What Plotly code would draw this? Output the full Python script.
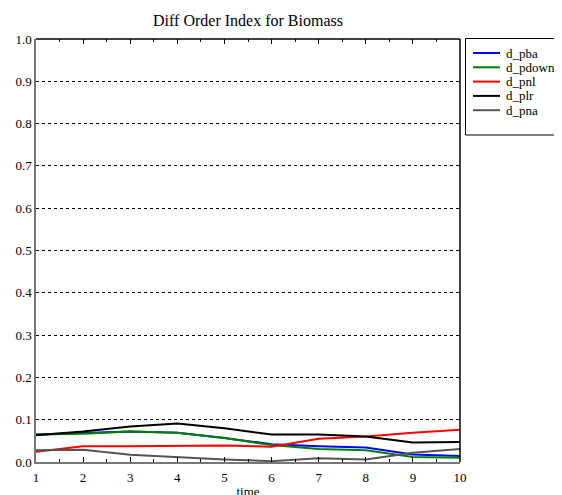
import plotly.graph_objects as go

time = [1, 2, 3, 4, 5, 6, 7, 8, 9, 10]
series_names = ["d_pba", "d_pdown", "d_pnl", "d_plr", "d_pna"]
d_pba = [0.065, 0.069, 0.072, 0.069, 0.057, 0.042, 0.037, 0.034, 0.018, 0.014]
d_pdown = [0.065, 0.067, 0.072, 0.069, 0.057, 0.040, 0.031, 0.028, 0.012, 0.010]
d_pnl = [0.024, 0.037, 0.037, 0.038, 0.039, 0.036, 0.055, 0.060, 0.069, 0.076]
d_plr = [0.063, 0.072, 0.084, 0.091, 0.080, 0.065, 0.065, 0.060, 0.046, 0.047]
d_pna = [0.028, 0.029, 0.017, 0.011, 0.006, 0.002, 0.009, 0.006, 0.022, 0.031]
colors = ["#0000ff", "#008000", "#ff0000", "#000000", "#555555"]
yticks = [0.0, 0.1, 0.2, 0.3, 0.4, 0.5, 0.6, 0.7, 0.8, 0.9, 1.0]

FONT = "Times New Roman"

OFF = 8  # page body margin offset
W, H = 562, 495
L, T = 36 - OFF, 39 - OFF
PR, PB = 460 - OFF, 462 - OFF
R, B = W - PR, H - PB
PW, PH = PR - L, PB - T


def px_x(p):
    return (p - OFF - L) / PW


def px_y(p):
    return (PB - (p - OFF)) / PH


fig = go.Figure()
for name, vals, c in zip(series_names, [d_pba, d_pdown, d_pnl, d_plr, d_pna], colors):
    fig.add_trace(go.Scatter(x=time, y=vals, mode="lines", name=name,
                             line=dict(color=c, width=2), showlegend=False))

fig.update_layout(
    width=W, height=H,
    margin=dict(l=L, r=R, t=T, b=B, autoexpand=False),
    paper_bgcolor="white", plot_bgcolor="white",
    font=dict(family=FONT, size=13, color="black"),
    title=dict(text="Diff Order Index for Biomass", x=(L + PW / 2) / W, xanchor="center",
               y=1 - (20 - OFF) / H, yanchor="middle", font=dict(size=16, family=FONT)),
    showlegend=False,
    xaxis=dict(range=[1, 10], tickvals=time, ticks="inside", ticklen=5,
               tickcolor="black", showgrid=False, zeroline=False,
               showline=True, linecolor="#777777", linewidth=1.5, mirror=False,
               minor=dict(dtick=0.5, ticks="inside", ticklen=3, tickcolor="black"),
               title=dict(text="time", standoff=3, font=dict(size=13)),
               tickfont=dict(size=13), ticklabelstandoff=3, automargin=False),
    yaxis=dict(range=[0, 1], tickvals=yticks, ticktext=[f"{v:.1f}" for v in yticks],
               ticks="", showgrid=True, gridcolor="black", griddash="dot", gridwidth=1,
               zeroline=False, showline=True, linecolor="#777777", linewidth=1.5,
               tickfont=dict(size=13), automargin=False),
    xaxis2=dict(overlaying="x", side="top", range=[1, 10], tickvals=time,
                ticks="inside", ticklen=5, tickcolor="black", showticklabels=False,
                showgrid=False, zeroline=False, showline=False, automargin=False,
                minor=dict(dtick=0.5, ticks="inside", ticklen=3, tickcolor="black")),
)
fig.add_trace(go.Scatter(x=[1], y=[0], xaxis="x2", mode="markers",
                         marker=dict(opacity=0), showlegend=False, hoverinfo="skip"))

# top and right frame lines
fig.add_shape(type="line", xref="paper", yref="paper", x0=0, x1=1, y0=1, y1=1,
              line=dict(color="black", width=1.5))
fig.add_shape(type="line", xref="paper", yref="paper", x0=1, x1=1, y0=0, y1=1,
              line=dict(color="black", width=1.5))

# legend box (drawn manually to match compact spacing)
fig.add_shape(type="rect", xref="paper", yref="paper",
              x0=px_x(465.5), x1=px_x(575), y0=px_y(135), y1=px_y(38.5),
              line=dict(color="black", width=1), fillcolor="white", layer="above")
for i, (name, c) in enumerate(zip(series_names, colors)):
    yy = 53 + i * 14.3
    fig.add_shape(type="line", xref="paper", yref="paper",
                  x0=px_x(473), x1=px_x(500), y0=px_y(yy), y1=px_y(yy),
                  line=dict(color=c, width=2), layer="above")
    fig.add_annotation(text=name, xref="paper", yref="paper", x=px_x(504), y=px_y(yy),
                       xanchor="left", yanchor="middle", showarrow=False,
                       font=dict(size=13, family=FONT, color="black"))

fig.write_html("out.html")
